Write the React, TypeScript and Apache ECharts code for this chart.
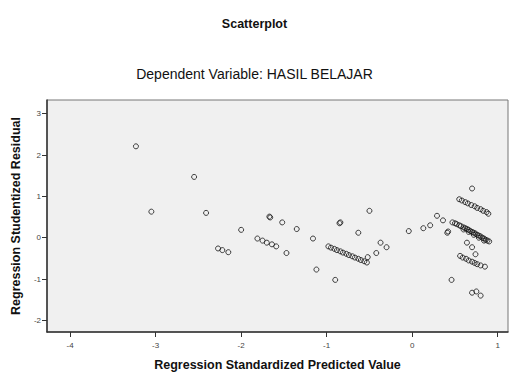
import React, { useEffect, useRef } from "react";
import * as echarts from "echarts";

const xTicks = [-4, -3, -2, -1, 0, 1];
const yTicks = [-2, -1, 0, 1, 2, 3];

const predicted = [
  -3.23, -3.05, -2.55, -2.41, -2.0, -2.27, -2.22, -2.15, -1.67, -1.66, -1.52, -1.35,
  -1.81, -1.75, -1.7, -1.64, -1.59, -1.47, -1.16, -1.12, -0.9, -0.85, -0.84,
  -0.98, -0.95, -0.91, -0.88, -0.84, -0.81, -0.77, -0.74, -0.7, -0.67, -0.63, -0.6, -0.56, -0.53, -0.52,
  -0.63, -0.5, -0.37, -0.3, -0.42, -0.04, 0.13, 0.21, 0.29, 0.36, 0.41, 0.42, 0.46, 0.7,
  0.55, 0.58, 0.62, 0.65, 0.69, 0.73, 0.76, 0.8, 0.83, 0.87, 0.89,
  0.47, 0.5, 0.52, 0.55, 0.57, 0.6, 0.62, 0.64, 0.66, 0.68, 0.7, 0.72, 0.74, 0.76, 0.78, 0.8, 0.82, 0.84, 0.86, 0.88, 0.9,
  0.6, 0.66, 0.72, 0.78, 0.84,
  0.64, 0.7, 0.74,
  0.56, 0.59, 0.63, 0.66, 0.7, 0.73, 0.76, 0.8, 0.85,
  0.7, 0.75, 0.8,
];
const residual = [
  2.21, 0.63, 1.47, 0.6, 0.19, -0.26, -0.3, -0.35, 0.51, 0.49, 0.37, 0.21,
  -0.02, -0.07, -0.12, -0.16, -0.21, -0.37, -0.02, -0.77, -1.02, 0.35, 0.37,
  -0.21, -0.24, -0.27, -0.3, -0.33, -0.36, -0.39, -0.42, -0.45, -0.48, -0.51, -0.54, -0.57, -0.6, -0.47,
  0.12, 0.65, -0.12, -0.23, -0.37, 0.16, 0.23, 0.3, 0.53, 0.42, 0.12, 0.15, -1.02, 1.19,
  0.93, 0.9, 0.86, 0.83, 0.79, 0.76, 0.72, 0.69, 0.65, 0.62, 0.58,
  0.37, 0.35, 0.33, 0.3, 0.28, 0.25, 0.23, 0.21, 0.19, 0.16, 0.14, 0.12, 0.1, 0.07, 0.05, 0.03, 0.0, -0.02, -0.05, -0.07, -0.09,
  0.2, 0.14, 0.07, 0.0, -0.07,
  -0.12, -0.23, -0.4,
  -0.44, -0.48, -0.51, -0.55, -0.58, -0.61, -0.64, -0.67, -0.7,
  -1.33, -1.3, -1.4,
];

const FONT = "'Liberation Sans', Arial, sans-serif";

export default function App() {
  const ref = useRef<HTMLDivElement>(null);
  useEffect(() => {
    if (!ref.current) return;
    const chart = echarts.init(ref.current, null, { renderer: "svg" });
    const data = predicted.map((x, i) => [x, residual[i]]);
    chart.setOption({
      animation: false,
      backgroundColor: "#ffffff",
      title: [
        {
          text: "Scatterplot",
          left: "center",
          top: 12,
          textStyle: { fontFamily: FONT, fontSize: 12.5, fontWeight: "bold", color: "#111" },
        },
        {
          text: "Dependent Variable: HASIL BELAJAR",
          left: "center",
          top: 62,
          textStyle: { fontFamily: FONT, fontSize: 14, fontWeight: "normal", color: "#111" },
        },
      ],
      grid: {
        left: 47,
        top: 100,
        right: 1,
        bottom: 35,
        show: true,
        backgroundColor: "#f0f0f0",
        borderColor: "#777",
        borderWidth: 1,
      },
      xAxis: {
        type: "value",
        min: -4.27,
        max: 1.12,
        splitLine: { show: false },
        axisLine: { show: true, onZero: false, lineStyle: { color: "#333", width: 1.5 } },
        axisTick: { show: true, length: 5, customValues: xTicks, lineStyle: { color: "#333" } },
        axisLabel: {
          customValues: xTicks,
          fontSize: 8,
          color: "#444",
          fontFamily: FONT,
          margin: 9,
        },
        name: "Regression Standardized Predicted Value",
        nameLocation: "middle",
        nameGap: 26,
        nameTextStyle: { fontFamily: FONT, fontSize: 12.5, fontWeight: "bold", color: "#111" },
      },
      yAxis: {
        type: "value",
        min: -2.28,
        max: 3.33,
        splitLine: { show: false },
        axisLine: { show: true, onZero: false, lineStyle: { color: "#333", width: 1.5 } },
        axisTick: { show: true, length: 5, customValues: yTicks, lineStyle: { color: "#333" } },
        axisLabel: {
          customValues: yTicks,
          fontSize: 8,
          color: "#444",
          fontFamily: FONT,
          margin: 6,
        },
        name: "Regression Studentized Residual",
        nameLocation: "middle",
        nameRotate: 90,
        nameGap: 20,
        nameTextStyle: { fontFamily: FONT, fontSize: 12.5, fontWeight: "bold", color: "#111" },
      },
      series: [
        {
          type: "scatter",
          data,
          symbol: "circle",
          symbolSize: 5,
          itemStyle: { color: "transparent", borderColor: "#111", borderWidth: 1 },
        },
      ],
    });
    return () => chart.dispose();
  }, []);
  return (
    <div
      ref={ref}
      style={{ position: "fixed", left: 0, top: 0, width: 509, height: 376 }}
    />
  );
}
